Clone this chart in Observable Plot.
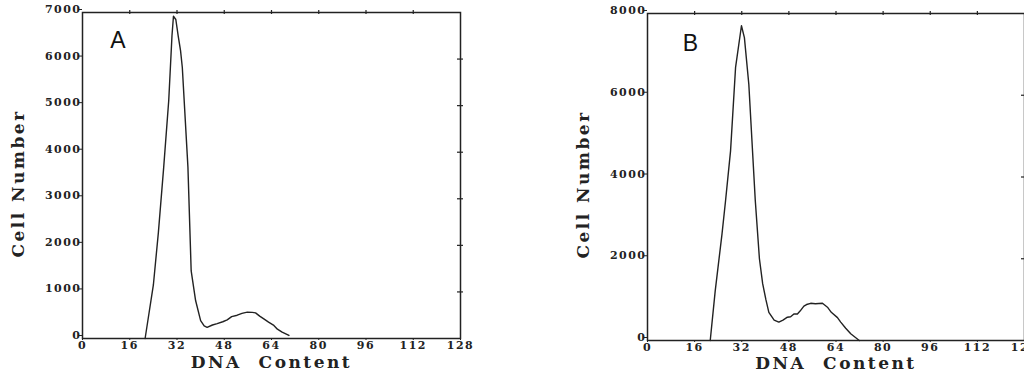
<!DOCTYPE html>
<html>
<head>
<meta charset="utf-8">
<script src="https://cdn.jsdelivr.net/npm/d3@7"></script>
<script src="https://cdn.jsdelivr.net/npm/@observablehq/plot@0.6"></script>
<style>
  html, body { margin: 0; padding: 0; background: #fff; }
  #wrap { position: relative; width: 1024px; height: 374px; overflow: hidden; background: #fff; }
  #wrap svg { position: absolute; top: 0; overflow: visible; }
  #wrap svg [aria-label="x-axis tick label"] text,
  #wrap svg [aria-label="y-axis tick label"] text { letter-spacing: 1.5px; font-weight: bold; }
  #wrap svg .axtitle text { letter-spacing: 2.5px; white-space: pre; font-weight: bold; }
</style>
</head>
<body>
<div id="wrap"></div>
<script>
// ---- data ----
const xTicks = [0, 16, 32, 48, 64, 80, 96, 112, 128];
const yTicksA = [0, 1000, 2000, 3000, 4000, 5000, 6000, 7000];
const yTicksB = [0, 2000, 4000, 6000, 8000];
const panelLabels = ["A", "B"];
const xLabel = "DNA  Content";
const yLabel = "Cell Number";

const dnaA   = [21.2, 24.0, 25.7, 27.5, 29.2, 30.3, 30.8, 31.6, 32.4, 33.2, 33.8, 35.7, 36.8, 38.3, 40.0, 41.2, 42.2, 44.0, 45.6, 47.5, 49.0, 50.5, 52.4, 54.0, 55.8, 57.5, 58.6, 60.0, 61.4, 63.0, 64.8, 66.0, 67.6, 69.9];
const cellsA = [0, 1150, 2280, 3680, 5110, 6500, 6920, 6850, 6500, 6180, 5820, 3680, 1450, 815, 385, 270, 240, 290, 320, 360, 400, 470, 500, 540, 565, 560, 550, 480, 420, 350, 280, 200, 135, 65];

const dnaB   = [21.3, 23.0, 25.3, 26.5, 28.2, 29.9, 31.9, 32.9, 34.4, 36.6, 38.0, 39.1, 40.2, 41.2, 43.0, 44.6, 46.0, 47.5, 48.6, 49.7, 50.9, 51.8, 53.1, 54.0, 55.4, 57.0, 59.4, 61.1, 62.4, 64.5, 65.6, 67.3, 69.0, 71.9];
const cellsB = [0, 1220, 2610, 3420, 4640, 6680, 7700, 7410, 6270, 3420, 2000, 1390, 1000, 690, 500, 450, 500, 570, 580, 650, 650, 720, 840, 880, 910, 900, 910, 815, 690, 560, 450, 300, 165, 0];

const ink = "#222";
const tickFont = "'DejaVu Serif', 'Liberation Serif', serif";
const plain = d3.format("d");

function panel({dna, cells, yMax, yTicks, label, left, width, mL, mR, mT, mB, yLabelDy, xLabelDy, labDx, labDy}) {
  const rows = dna.map((x, i) => ({x, y: cells[i]}));
  const innerTicksX = xTicks.slice(1, -1);
  const innerTicksY = yTicks.slice(1, -1);
  const svg = Plot.plot({
    width, height: 374,
    marginLeft: mL, marginRight: mR, marginTop: mT, marginBottom: mB,
    style: {fontFamily: tickFont, fontWeight: "bold", fontSize: "11px", color: ink, background: "transparent"},
    x: {domain: [0, 128], label: null},
    y: {domain: [0, yMax], label: null},
    marks: [
      Plot.frame({stroke: ink, strokeWidth: 1.5}),
      Plot.axisX({ticks: xTicks, tickFormat: plain, tickSize: 2, tickPadding: 1, stroke: ink, fill: ink, fontWeight: "bold", label: null}),
      Plot.axisY({ticks: yTicks, tickFormat: plain, tickSize: 3, tickPadding: -2, dy: -3, stroke: ink, fill: ink, fontWeight: "bold", label: null}),
      Plot.ruleX(innerTicksX, {x: d => d, y1: yMax, y2: yMax, insetTop: -2, insetBottom: -2, stroke: ink, strokeWidth: 1.2}),
      Plot.ruleY(innerTicksY, {y: d => d, x1: 128, x2: 128, insetLeft: -3, insetRight: -3, stroke: ink, strokeWidth: 1.2}),
      Plot.line(rows, {x: "x", y: "y", stroke: ink, strokeWidth: 1.4, curve: "linear"}),
      Plot.text([label], {text: d => d, frameAnchor: "top-left", dx: labDx, dy: labDy, fontFamily: "'Liberation Sans', Arial, sans-serif", fontWeight: "normal", fontSize: 23, fill: "#111", textAnchor: "middle", lineAnchor: "middle"}),
      Plot.text([yLabel], {text: d => d, frameAnchor: "left", dx: -64, dy: yLabelDy, rotate: -90, fontSize: 17, fontWeight: "bold", fill: ink, textAnchor: "middle", lineAnchor: "middle", className: "axtitle"}),
      Plot.text([xLabel], {text: d => d, frameAnchor: "bottom", dy: xLabelDy, fontSize: 17, fontWeight: "bold", fill: ink, textAnchor: "middle", lineAnchor: "middle", className: "axtitle"})
    ]
  });
  svg.style.left = left + "px";
  return svg;
}

const wrap = document.getElementById("wrap");
wrap.appendChild(panel({dna: dnaA, cells: cellsA, yMax: 7000, yTicks: yTicksA, label: panelLabels[0],
  left: 0, width: 512, mL: 82, mR: 52, mT: 12, mB: 36, yLabelDy: 8, xLabelDy: 24, labDx: 35.5, labDy: 28.5}));
wrap.appendChild(panel({dna: dnaB, cells: cellsB, yMax: 8000, yTicks: yTicksB, label: panelLabels[1],
  left: 512, width: 512, mL: 135, mR: 0, mT: 13, mB: 34, yLabelDy: 7.5, xLabelDy: 23, labDx: 43, labDy: 30}));
</script>
</body>
</html>
